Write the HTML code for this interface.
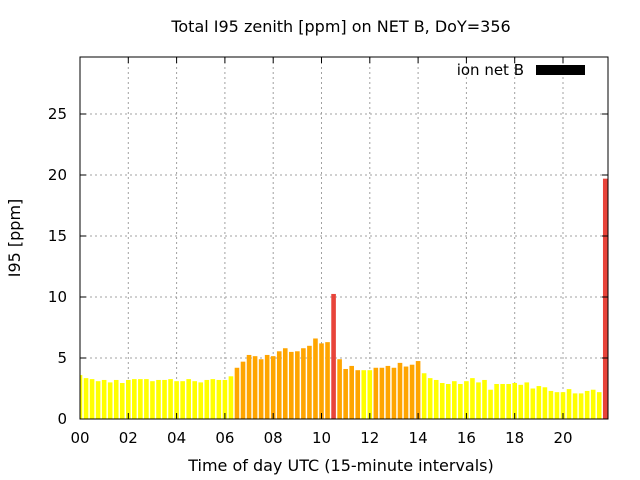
<!DOCTYPE html>
<html><head><meta charset="utf-8"><style>
body{margin:0;background:#fff;width:640px;height:480px;overflow:hidden}
svg{display:block;font-family:"Liberation Sans","DejaVu Sans",sans-serif}
</style></head><body>
<svg id="chart" width="640" height="480">
<text x="341" y="32" text-anchor="middle" font-size="16" font-family="DejaVu Sans, sans-serif">Total I95 zenith [ppm] on NET B, DoY=356</text>
<g id="grid"></g>
<g id="bars"></g>
<g id="axes"></g>
<text x="341" y="471" text-anchor="middle" font-size="16" font-family="DejaVu Sans, sans-serif">Time of day UTC (15-minute intervals)</text>
<text transform="translate(20,238) rotate(-90)" text-anchor="middle" font-size="16" font-family="DejaVu Sans, sans-serif">I95 [ppm]</text>
<g>
<text x="524" y="75" text-anchor="end" font-size="15" font-family="DejaVu Sans, sans-serif">ion net B</text>
<rect x="536" y="65" width="49" height="10" fill="#000"></rect>
</g>
</svg>
<script>
const values=[3.6,3.35,3.27,3.1,3.2,3.0,3.2,2.95,3.2,3.27,3.27,3.27,3.1,3.2,3.2,3.27,3.1,3.1,3.27,3.1,3.0,3.2,3.27,3.2,3.2,3.5,
4.2,4.7,5.25,5.15,4.9,5.25,5.15,5.55,5.8,5.5,5.55,5.8,6.0,6.6,6.2,6.3,10.25,4.9,4.1,4.35,4.0,4.0,4.0,4.2,4.2,4.35,4.2,4.6,4.3,4.45,4.75,
3.75,3.35,3.2,2.95,2.87,3.1,2.87,3.1,3.35,3.0,3.2,2.4,2.87,2.87,2.87,2.95,2.8,3.0,2.5,2.7,2.6,2.3,2.2,2.2,2.45,2.1,2.1,2.3,2.4,2.2,19.7];
const levels=[0,0,0,0,0,0,0,0,0,0,0,0,0,0,0,0,0,0,0,0,0,0,0,0,0,0,
1,1,1,1,1,1,1,1,1,1,1,1,1,1,1,1,2,1,1,1,1,0,0,1,1,1,1,1,1,1,1,
0,0,0,0,0,0,0,0,0,0,0,0,0,0,0,0,0,0,0,0,0,0,0,0,0,0,0,0,0,0,2];
const xTickLabels=["00","02","04","06","08","10","12","14","16","18","20"];
const yTicks=[0,5,10,15,20,25];
const levelColors=["#ffff00","#ffa500","#e8443a"];
const L=80,R=608,T=57,B=419;
const X=h=>L+h*24.15;
const Y=v=>B-v*12.2;
const NS="http://www.w3.org/2000/svg";
function mk(t,a,p){const e=document.createElementNS(NS,t);for(const k in a)e.setAttribute(k,a[k]);p.appendChild(e);return e;}
const grid=document.getElementById('grid'),bars=document.getElementById('bars'),axes=document.getElementById('axes');
yTicks.forEach(v=>{
  if(v>0){const g=mk('line',{x1:L,x2:R,y1:Y(v),y2:Y(v),stroke:'#a0a0a0','stroke-dasharray':'2,3'},grid);
  
  }
  const t=mk('text',{x:L-13,y:Y(v)+5,'text-anchor':'end','font-size':15,'font-family':'DejaVu Sans, sans-serif'},axes);t.textContent=v;
  
  
  mk('line',{x1:L,x2:L+6,y1:Y(v),y2:Y(v),stroke:'#000'},axes);
  mk('line',{x1:R,x2:R-6,y1:Y(v),y2:Y(v),stroke:'#000'},axes);
});
xTickLabels.forEach((s,i)=>{
  const x=X(i*2);
  if(i>0){const g=mk('line',{x1:x,x2:x,y1:T,y2:B,stroke:'#a0a0a0','stroke-dasharray':'2,3'},grid);
  
  }
  const t=mk('text',{x:x,y:443,'text-anchor':'middle','font-size':15,'font-family':'DejaVu Sans, sans-serif'},axes);t.textContent=s;
  
  
  mk('line',{x1:x,x2:x,y1:B,y2:B-6,stroke:'#000'},axes);
  mk('line',{x1:x,x2:x,y1:T,y2:T+6,stroke:'#000'},axes);
});
mk('clipPath',{id:'pc'},bars);
mk('rect',{x:L,y:T,width:R-L,height:B-T},bars.lastChild);
values.forEach((v,i)=>{
  const cx=X(i*0.25);
  const r=mk('rect',{x:cx-2.3,y:Y(v),width:4.6,height:B-Y(v),fill:levelColors[levels[i]],'clip-path':'url(#pc)'},bars);
  
  
});
const f=mk('rect',{x:L,y:T,width:R-L,height:B-T,fill:'none',stroke:'#000','stroke-width':1},axes);


</script>
</body></html>
